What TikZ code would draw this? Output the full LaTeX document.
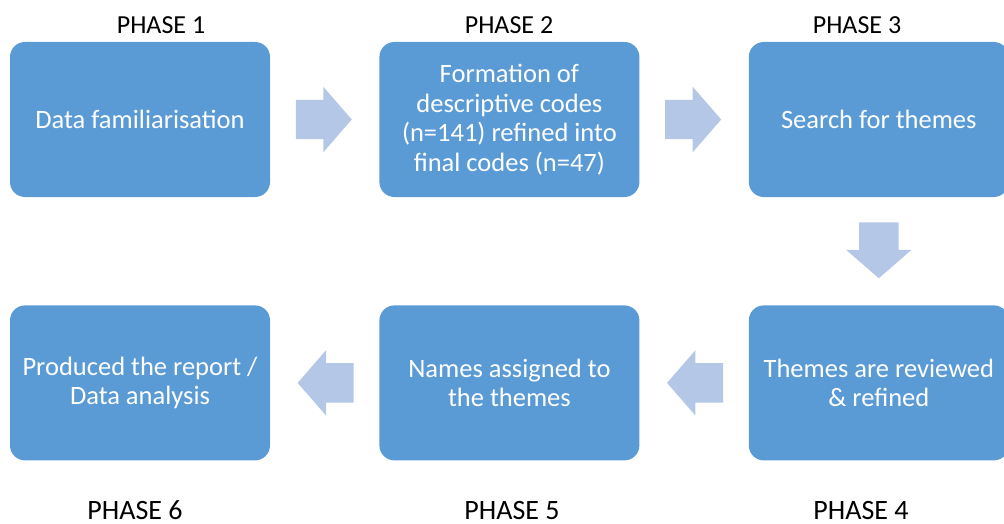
\documentclass[tikz,border=0pt]{standalone}
\usepackage{fontspec}
\setmainfont{Carlito}
\usetikzlibrary{shapes.arrows,positioning}

\definecolor{boxblue}{HTML}{5B9BD5}
\definecolor{arrowblue}{HTML}{B4C7E7}

\begin{document}
\begin{tikzpicture}[
        x=1pt, y=-1pt,
        node distance=108pt and 109pt,
        phasebox/.style={fill=boxblue, rounded corners=15pt, minimum width=260pt, minimum height=155pt,
            align=center, text=white, font=\fontsize{26.5}{29.5}\selectfont},
        phaselabel/.style={anchor=base, inner sep=0pt, font=\fontsize{26}{30}\selectfont},
        phaselabelb/.style={anchor=base, inner sep=0pt, font=\fontsize{28}{32}\selectfont},
        flowarrow/.style={to path={-- node[midway, sloped, allow upside down, single arrow, fill=arrowblue,
            inner xsep=0pt, inner ysep=19.5pt, minimum height=56pt, minimum width=65pt,
            single arrow head extend=13pt, single arrow tip angle=98, xshift=-9.5pt] {} (\tikztotarget)}}
    ]
    \useasboundingbox (0,0) rectangle (1004,524);

    % Boxes
    \node[phasebox] (p1) at (140,119.5) {Data familiarisation};
    \node[phasebox, right=of p1] (p2) {Formation of\\ descriptive codes\\ (n=141) refined into\\ final codes (n=47)};
    \node[phasebox, right=of p2] (p3) {Search for themes};
    \node[phasebox, below=of p3] (p4) {Themes are reviewed\\ \& refined};
    \node[phasebox, left=of p4] (p5) {Names assigned to\\ the themes};
    \node[phasebox, left=of p5] (p6) {Produced the report /\\ Data analysis};

    % Labels
    \node[phaselabel] (ph1) at (161,33.5) {PHASE 1};
    \node[phaselabel] (ph2) at (509,33.5) {PHASE 2};
    \node[phaselabel] (ph3) at (857,33.5) {PHASE 3};
    \node[phaselabelb] (ph4) at (861,519) {PHASE 4};
    \node[phaselabelb] (ph5) at (512,519) {PHASE 5};
    \node[phaselabelb] (ph6) at (135,519) {PHASE 6};

    % Arrows
    \path (p1.east) to[flowarrow] (p2.west);
    \path (p2.east) to[flowarrow] (p3.west);
    \path (p3.south) to[flowarrow] (p4.north);
    \path (p4.west) to[flowarrow] (p5.east);
    \path (p5.west) to[flowarrow] (p6.east);

\end{tikzpicture}
\end{document}
